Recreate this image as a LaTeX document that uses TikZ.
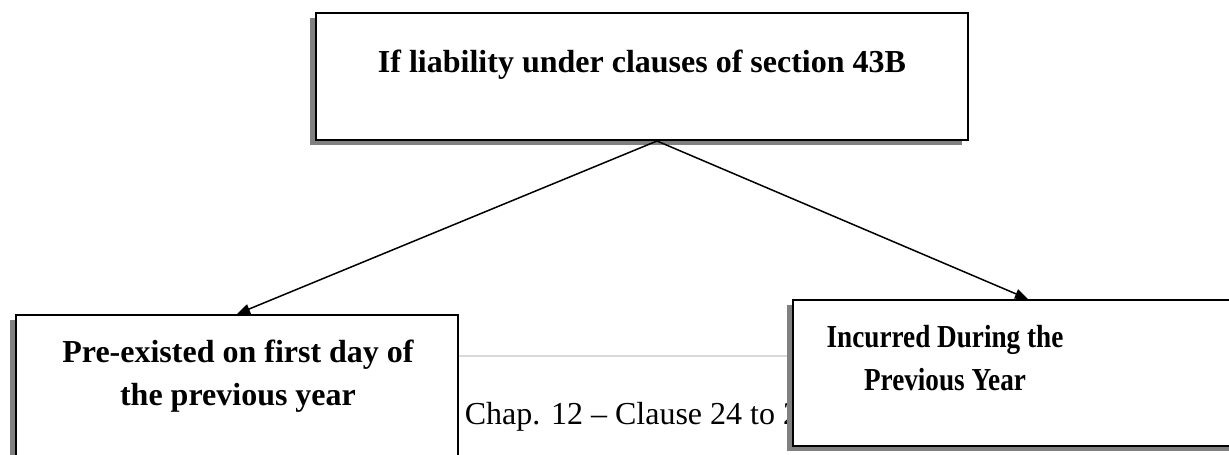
\documentclass[tikz,border=0pt]{standalone}
\usepackage{fontspec}
\usepackage{graphicx}
\setmainfont{Liberation Serif}
\usetikzlibrary{arrows.meta,shadows,calc}
\newcommand{\narrowtxt}[1]{\scalebox{0.85}[1]{#1}}
\begin{document}
\begin{tikzpicture}[x=1pt,y=-1pt,
  box/.style={draw=black, line width=2pt, fill=white, inner sep=0pt,
    drop shadow={shadow xshift=-6pt, shadow yshift=-5pt, fill=black!50, opacity=1}},
  lbl/.style={font=\fontsize{32}{43}\selectfont\bfseries, align=center, inner sep=0pt},
  conn/.style={line width=1.5pt, -{Triangle[length=13pt,width=10pt]}}]
\useasboundingbox (0,0) rectangle (1229,455);
% page footer behind the boxes
\draw[black!15, line width=2pt] (440,356) -- (800,356);
\node[font=\fontsize{32}{38}\selectfont, anchor=base west, inner sep=0pt] (foot) at (446,424) {- Chap. 12 – Clause 24 to 26};
% boxes
\node[box, minimum width=652pt, minimum height=127pt] (top) at (642,76.5) {};
\node[box, minimum width=442pt, minimum height=150pt] (left) at (237,390) {};
\node[box, minimum width=470pt, minimum height=146pt] (right) at (1028,373) {};
% labels
\node[lbl, anchor=base] (toptext) at (642,72) {If liability under clauses of section 43B};
\node[lbl] (lefttext) at (238,376) {Pre-existed on first day of\\the previous year};
\node[lbl] (righttext) at (945,358) {\narrowtxt{Incurred During the}\\\narrowtxt{Previous Year}};
% connectors
\coordinate (split) at ($(top.south)+(15,0)$);
\draw[conn] (split) -- (left.north);
\draw[conn] (split) -- (right.north);
\end{tikzpicture}
\end{document}
